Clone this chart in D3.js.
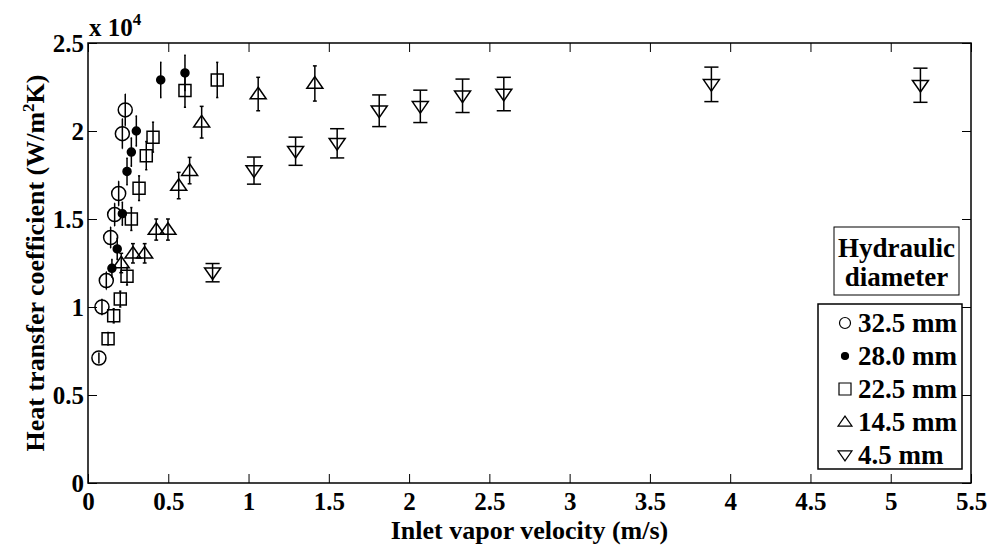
<!DOCTYPE html>
<html><head><meta charset="utf-8">
<script src="https://cdn.jsdelivr.net/npm/d3@7"></script>
<style>
html,body{margin:0;padding:0;background:#fff;}
svg text{font-family:"Liberation Serif","Times New Roman",serif;font-weight:bold;fill:#000;}
</style></head>
<body><svg id="chart" width="995" height="546"></svg>
<script>
// ---- data (values in units of 10^4 W/m^2K) ----
const xTicks = [0, 0.5, 1, 1.5, 2, 2.5, 3, 3.5, 4, 4.5, 5, 5.5];
const xTickLabels = ["0", "0.5", "1", "1.5", "2", "2.5", "3", "3.5", "4", "4.5", "5", "5.5"];
const yTicks = [0, 0.5, 1, 1.5, 2, 2.5];
const yTickLabels = ["0", "0.5", "1", "1.5", "2", "2.5"];
const seriesNames = ["32.5 mm", "28.0 mm", "22.5 mm", "14.5 mm", "4.5 mm"];
const seriesMarkers = ["circle", "dot", "square", "triUp", "triDown"];

const x325 = [0.068, 0.087, 0.114, 0.141, 0.166, 0.191, 0.214, 0.232];
const y325 = [0.71, 1.00, 1.15, 1.395, 1.525, 1.645, 1.985, 2.12];
const e325 = [0.03, 0.045, 0.05, 0.06, 0.065, 0.07, 0.085, 0.09];

const x280 = [0.149, 0.182, 0.214, 0.243, 0.27, 0.301, 0.453, 0.604];
const y280 = [1.22, 1.33, 1.53, 1.77, 1.88, 2.0, 2.29, 2.33];
const e280 = [0.05, 0.06, 0.065, 0.075, 0.08, 0.085, 0.1, 0.1];

const x225 = [0.125, 0.16, 0.201, 0.243, 0.27, 0.318, 0.363, 0.405, 0.604, 0.805];
const y225 = [0.82, 0.95, 1.045, 1.175, 1.50, 1.675, 1.86, 1.965, 2.23, 2.29];
const e225 = [0.035, 0.04, 0.045, 0.05, 0.065, 0.07, 0.08, 0.085, 0.095, 0.1];

const x145 = [0.207, 0.28, 0.353, 0.425, 0.498, 0.565, 0.633, 0.708, 1.06, 1.413];
const y145 = [1.25, 1.305, 1.305, 1.44, 1.44, 1.69, 1.775, 2.05, 2.21, 2.27];
const e145 = [0.055, 0.055, 0.055, 0.06, 0.06, 0.075, 0.075, 0.09, 0.095, 0.1];

const x45 = [0.776, 1.034, 1.293, 1.552, 1.814, 2.07, 2.333, 2.59, 3.883, 5.185];
const y45 = [1.195, 1.775, 1.885, 1.93, 2.115, 2.14, 2.2, 2.21, 2.265, 2.26];
const e45 = [0.052, 0.077, 0.08, 0.083, 0.09, 0.092, 0.095, 0.095, 0.098, 0.097];

const seriesX = [x325, x280, x225, x145, x45];
const seriesY = [y325, y280, y225, y145, y45];
const seriesE = [e325, e280, e225, e145, e45];

// ---- layout ----
const svg = d3.select("#chart");
const L = 88, R = 971, T = 43, B = 483;
const x = d3.scaleLinear().domain([0, 5.5]).range([L, R]);
const y = d3.scaleLinear().domain([0, 2.5]).range([B, T]);
const tickFont = 25, labelFont = 26, legendFont = 27;

// axes (MATLAB-style box with inward ticks)
const tickLen = 9;
const gx = svg.append("g").attr("transform", `translate(0,${B})`)
  .call(d3.axisBottom(x).tickValues(xTicks).tickFormat((d, i) => xTickLabels[i]).tickSizeInner(-tickLen).tickSizeOuter(0).tickPadding(9));
const gxt = svg.append("g").attr("transform", `translate(0,${T})`)
  .call(d3.axisTop(x).tickValues(xTicks).tickFormat("").tickSizeInner(-tickLen).tickSizeOuter(0));
const gy = svg.append("g").attr("transform", `translate(${L},0)`)
  .call(d3.axisLeft(y).tickValues(yTicks).tickFormat((d, i) => yTickLabels[i]).tickSizeInner(-tickLen).tickSizeOuter(0).tickPadding(4));
const gyr = svg.append("g").attr("transform", `translate(${R},0)`)
  .call(d3.axisRight(y).tickValues(yTicks).tickFormat("").tickSizeInner(-tickLen).tickSizeOuter(0));
[gx, gxt, gy, gyr].forEach(g => {
  g.select(".domain").remove();
  g.selectAll(".tick line").attr("stroke", "#000").attr("stroke-width", 1);
  g.selectAll("text").style("font-size", tickFont + "px").attr("fill", "#000");
});
gx.selectAll(".tick text").attr("dy", "0.71em");
gy.selectAll(".tick text").attr("dy", "0.35em");
svg.append("rect").attr("x", L).attr("y", T).attr("width", R - L).attr("height", B - T)
  .attr("fill", "none").attr("stroke", "#000").attr("stroke-width", 1.5);

// exponent label
const ex = svg.append("text").attr("x", L + 1).attr("y", T - 7).style("font-size", tickFont + "px");
ex.append("tspan").text("x 10");
ex.append("tspan").attr("dy", -11).style("font-size", "17px").text("4");

// axis titles
svg.append("text").attr("x", (L + R) / 2).attr("y", 539).attr("text-anchor", "middle")
  .style("font-size", labelFont + "px").text("Inlet vapor velocity (m/s)");
const yl = svg.append("text").attr("transform", `translate(44,${(T + B) / 2}) rotate(-90)`)
  .attr("text-anchor", "middle").style("font-size", labelFont + "px");
yl.append("tspan").text("Heat transfer coefficient (W/m");
yl.append("tspan").attr("dy", -10).style("font-size", "17px").text("2");
yl.append("tspan").attr("dy", 10).text("K)");

// markers
function markerPath(type, s) {
  const p = d3.path();
  if (type === "circle" || type === "dot") { p.arc(0, 0, s, 0, 2 * Math.PI); }
  else if (type === "square") { p.rect(-s, -s, 2 * s, 2 * s); }
  else if (type === "triUp") { p.moveTo(0, -s * 0.85); p.lineTo(s, s * 0.6); p.lineTo(-s, s * 0.6); p.closePath(); }
  else if (type === "triDown") { p.moveTo(0, s * 0.85); p.lineTo(s, -s * 0.6); p.lineTo(-s, -s * 0.6); p.closePath(); }
  return p.toString();
}
const plotSize = { circle: 7, dot: 4, square: 6, triUp: 8, triDown: 8 };
const legSize = { circle: 5.5, dot: 3.5, square: 6, triUp: 7, triDown: 7 };

const plot = svg.append("g");
seriesX.forEach((xs, si) => {
  const g = plot.append("g");
  const ys = seriesY[si], es = seriesE[si], m = seriesMarkers[si];
  const tee = (d3.max(xs) - d3.min(xs)) / 100; // MATLAB errorbar tee width
  xs.forEach((xv, i) => {
    const yv = ys[i], ev = es[i];
    const x0 = x(xv), x1 = x(xv - tee), x2 = x(xv + tee);
    const yt = y(yv + ev), yb = y(yv - ev);
    g.append("line").attr("x1", x0).attr("x2", x0).attr("y1", yt).attr("y2", yb).attr("stroke", "#000").attr("stroke-width", 1.5);
    g.append("line").attr("x1", x1).attr("x2", x2).attr("y1", yt).attr("y2", yt).attr("stroke", "#000").attr("stroke-width", 1.5);
    g.append("line").attr("x1", x1).attr("x2", x2).attr("y1", yb).attr("y2", yb).attr("stroke", "#000").attr("stroke-width", 1.5);
  });
  xs.forEach((xv, i) => {
    g.append("path").attr("d", markerPath(m, plotSize[m]))
      .attr("transform", `translate(${x(xv)},${y(ys[i])})`)
      .attr("fill", m === "dot" ? "#000" : "none").attr("stroke", "#000").attr("stroke-width", 1.5);
  });
});

// legend title box
svg.append("rect").attr("x", 834).attr("y", 227).attr("width", 125).attr("height", 68)
  .attr("fill", "#fff").attr("stroke", "#000").attr("stroke-width", 1);
svg.append("text").attr("x", 896.5).attr("y", 257).attr("text-anchor", "middle").style("font-size", legendFont + "px").text("Hydraulic");
svg.append("text").attr("x", 896.5).attr("y", 286).attr("text-anchor", "middle").style("font-size", legendFont + "px").text("diameter");

// legend entries box
svg.append("rect").attr("x", 818).attr("y", 304).attr("width", 144).attr("height", 165)
  .attr("fill", "#fff").attr("stroke", "#000").attr("stroke-width", 1.5);
seriesNames.forEach((nm, i) => {
  const cy = 323 + i * 33;
  const m = seriesMarkers[i];
  svg.append("path").attr("d", markerPath(m, legSize[m])).attr("transform", `translate(845,${cy})`)
    .attr("fill", m === "dot" ? "#000" : "none").attr("stroke", "#000").attr("stroke-width", 1.2);
  svg.append("text").attr("x", 858).attr("y", cy + 9).style("font-size", legendFont + "px").text(nm);
});
</script></body></html>
